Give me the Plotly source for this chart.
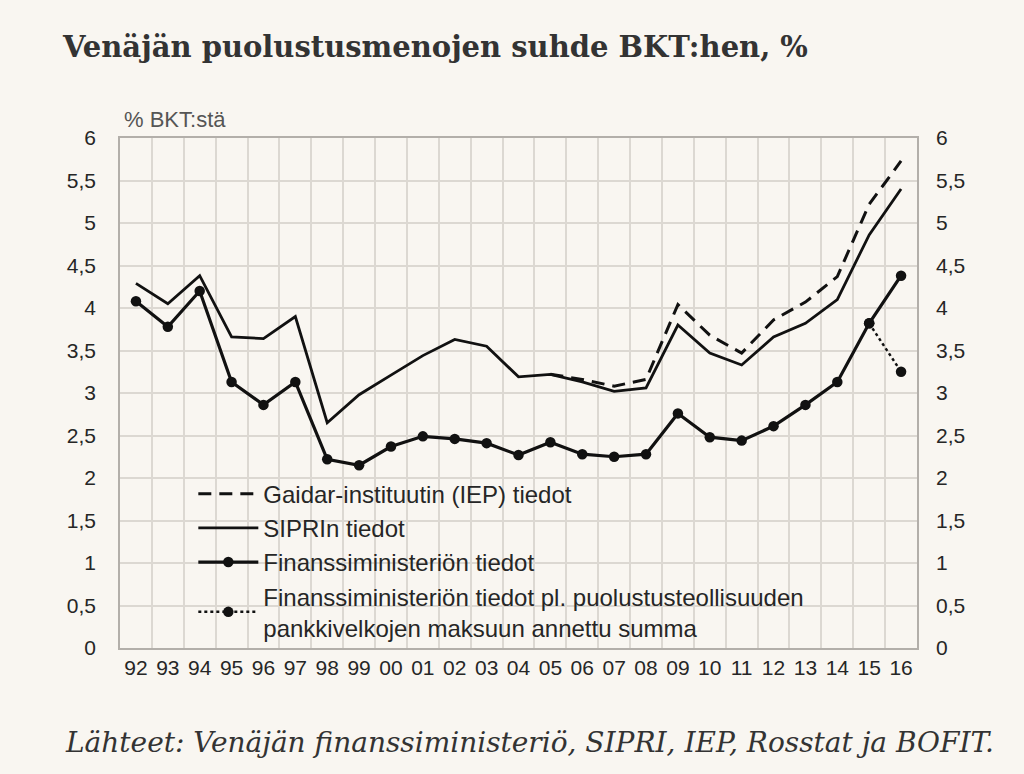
import plotly.graph_objects as go

years = ["92", "93", "94", "95", "96", "97", "98", "99", "00", "01", "02", "03", "04",
         "05", "06", "07", "08", "09", "10", "11", "12", "13", "14", "15", "16"]

sipri = [4.29, 4.05, 4.38, 3.66, 3.64, 3.90, 2.65, 2.98, 3.21, 3.44, 3.63, 3.55, 3.19,
         3.22, 3.13, 3.02, 3.06, 3.80, 3.47, 3.33, 3.66, 3.82, 4.10, 4.86, 5.40]

fin = [4.08, 3.78, 4.20, 3.13, 2.86, 3.13, 2.22, 2.15, 2.37, 2.49, 2.46, 2.41, 2.27,
       2.42, 2.28, 2.25, 2.28, 2.76, 2.48, 2.44, 2.61, 2.86, 3.13, 3.82, 4.38]

iep_years = ["05", "06", "07", "08", "09", "10", "11", "12", "13", "14", "15", "16"]
iep = [3.22, 3.16, 3.08, 3.16, 4.04, 3.68, 3.47, 3.86, 4.07, 4.37, 5.22, 5.73]

fin_excl_years = ["15", "16"]
fin_excl = [3.82, 3.25]

ytick_vals = [0, 0.5, 1, 1.5, 2, 2.5, 3, 3.5, 4, 4.5, 5, 5.5, 6]
ytick_text = ["0", "0,5", "1", "1,5", "2", "2,5", "3", "3,5", "4", "4,5", "5", "5,5", "6"]

BG = "#f9f6f1"
GRID = "#dcd8d2"
INK = "#111111"
TXT = "#262626"
SANS = "Liberation Sans, Arial, sans-serif"
SERIF = "DejaVu Serif, Georgia, serif"

fig = go.Figure()

fig.add_trace(go.Scatter(
    x=iep_years, y=iep, mode="lines", name="Gaidar-instituutin (IEP) tiedot",
    legendgroup="a", line=dict(color=INK, width=3, dash="13px,8px"), hoverinfo="skip"))

fig.add_trace(go.Scatter(
    x=years, y=sipri, mode="lines", name="SIPRIn tiedot", legendgroup="b",
    line=dict(color=INK, width=2.8), hoverinfo="skip"))

fig.add_trace(go.Scatter(
    x=years, y=fin, mode="lines+markers", name="Finanssiministeriön tiedot",
    legendgroup="c",
    line=dict(color=INK, width=3.2), marker=dict(color=INK, size=10.5), hoverinfo="skip"))

fig.add_trace(go.Scatter(
    x=fin_excl_years, y=fin_excl, mode="lines+markers", yaxis="y2", legendgroup="d",
    name="Finanssiministeriön tiedot pl. puolustusteollisuuden<br>pankkivelkojen maksuun annettu summa",
    line=dict(color=INK, width=2.5, dash="dot"), marker=dict(color=INK, size=10.5),
    hoverinfo="skip"))

axis_common = dict(range=[0, 6], tickvals=ytick_vals, ticktext=ytick_text,
                   tickfont=dict(family=SANS, size=21, color=TXT),
                   showgrid=True, gridcolor=GRID, gridwidth=1.5, zeroline=False,
                   fixedrange=True)

fig.update_layout(
    width=1024, height=774,
    paper_bgcolor=BG, plot_bgcolor=BG,
    margin=dict(l=120, r=107, t=138, b=126),
    showlegend=True,
    legend=dict(x=0.092, y=0.346, xanchor="left", yanchor="top",
                bgcolor="rgba(0,0,0,0)", font=dict(family=SANS, size=24, color=TXT),
                itemwidth=60, tracegroupgap=0, traceorder="normal"),
    title=dict(text="<b>Venäjän puolustusmenojen suhde BKT:hen, %</b>",
               x=63/1024, xref="container", xanchor="left",
               y=1 - 47/774, yref="container", yanchor="middle",
               font=dict(family=SERIF, size=29, color="#333333")),
    xaxis=dict(type="category", categoryorder="array", categoryarray=years,
               range=[-0.5, 24.5], tickson="boundaries", ticks="",
               showgrid=True, gridcolor=GRID, gridwidth=1.5,
               showline=True, linecolor="#b3afaa", linewidth=1.5, mirror=True,
               tickfont=dict(family=SANS, size=21, color=TXT), ticklabelstandoff=0,
               fixedrange=True),
    yaxis=dict(**axis_common, side="left", showline=True, linecolor="#b3afaa",
               linewidth=1.5, mirror=True, ticklabelstandoff=18),
    yaxis2=dict(**axis_common, side="right", overlaying="y", showline=False,
                ticklabelstandoff=18),
    annotations=[
        dict(text="% BKT:stä", xref="paper", yref="paper", x=0.003, y=(648 - 120) / 510,
             xanchor="left", yanchor="middle", showarrow=False,
             font=dict(family=SANS, size=22, color="#555555")),
        dict(text="<i>Lähteet: Venäjän finanssiministeriö, SIPRI, IEP, Rosstat ja BOFIT.</i>",
             xref="paper", yref="paper", x=(63 - 120) / 797, y=-(742 - 648) / 510,
             xanchor="left", yanchor="middle", showarrow=False,
             font=dict(family=SERIF, size=28, color="#333333")),
    ],
)

fig.write_html("out.html", config={"displayModeBar": False},
               post_script="document.body.style.margin='0';")
